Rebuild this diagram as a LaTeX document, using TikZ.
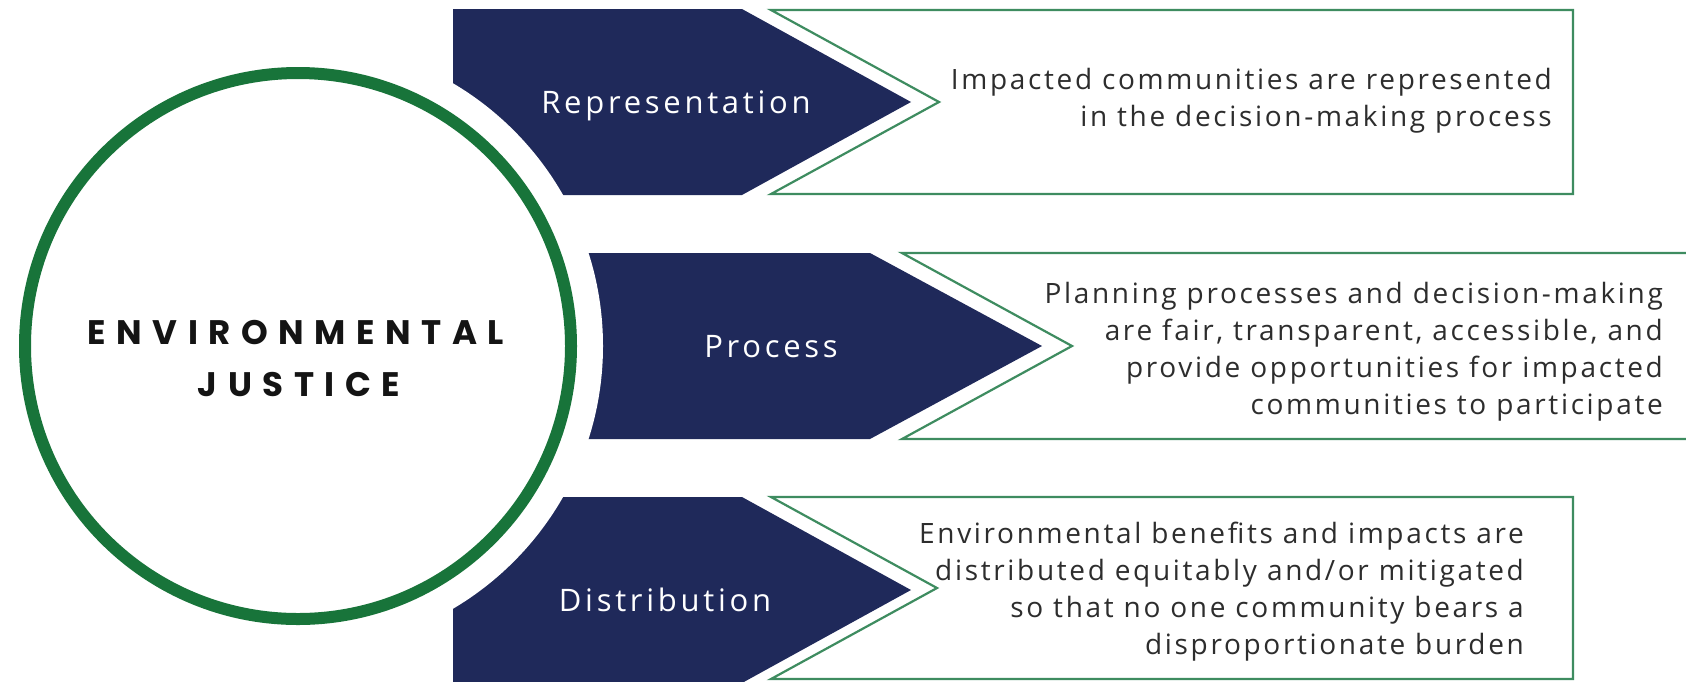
\documentclass[tikz,border=0pt]{standalone}
\usepackage{fontspec}
\setmainfont{Open Sans}
\newfontfamily\titlefont[LetterSpace=31]{Poppins}
\newfontfamily\labelfont[LetterSpace=12]{Open Sans}
\newfontfamily\descfont[LetterSpace=9.5]{Open Sans}
\definecolor{navy}{RGB}{31,41,90}
\definecolor{ringgreen}{RGB}{24,116,58}
\definecolor{boxgreen}{RGB}{62,140,96}
\definecolor{desctext}{RGB}{45,45,45}
\tikzset{
  chev/.style={fill=navy, draw=none},
  notchbox/.style={fill=white, draw=boxgreen, line width=2.2pt, line join=miter},
  lbl/.style={text=white, inner sep=0pt, font=\labelfont\fontsize{31}{36}\selectfont},
  desc/.style={text=desctext, inner sep=0pt, anchor=east, align=right, font=\descfont\fontsize{28}{37}\selectfont},
}
\begin{document}
\begin{tikzpicture}[x=1pt,y=-1pt]
\useasboundingbox (0,0) rectangle (1686,681);
\clip (0,0) rectangle (1686,681);
\fill[white] (0,0) rectangle (1686,681);
% boxes
\draw[notchbox] (771,10) -- (1573,10) -- (1573,194) -- (771,194) -- (939,102) -- cycle;
\draw[notchbox] (902,253) -- (1720,253) -- (1720,439) -- (902,439) -- (1072,346) -- cycle;
\draw[notchbox] (771,497) -- (1573,497) -- (1573,679) -- (771,679) -- (937,588) -- cycle;
% arrows
\fill[chev] (453,9) -- (742,9) -- (911,102) -- (742,195) -- (453,195) -- cycle;
\fill[chev] (560,253) -- (870,253) -- (1042,346) -- (870,439) -- (560,439) -- cycle;
\fill[chev] (453,497) -- (742,497) -- (911,590) -- (742,683) -- (453,683) -- cycle;
% gap disc and ring
\fill[white] (298,346) circle[radius=305];
\node[circle, draw=ringgreen, line width=12pt, minimum size=546pt, inner sep=0pt] (ring) at (298,346) {};
\node[align=center, inner sep=0pt, text=black!92, font=\titlefont\bfseries\fontsize{34}{52}\selectfont] (ej) at (296,359) {ENVIRONMENTAL\\\hspace*{6pt}JUSTICE};
% labels
\node[lbl] (rep) at (676,106) {Representation};
\node[lbl] (proc) at (771,347) {Process};
\node[lbl] (dist) at (665,600) {Distribution};
% descriptions
\node[desc] (repd) at (1552,101) {Impacted communities are represented\\in the decision-making process};
\node[desc] (procd) at (1663,352) {Planning processes and decision-making\\are fair, transparent, accessible, and\\provide opportunities for impacted\\communities to participate};
\node[desc] (distd) at (1524,592) {Environmental benefits and impacts are\\distributed equitably and/or mitigated\\so that no one community bears a\\disproportionate burden};
\end{tikzpicture}
\end{document}
